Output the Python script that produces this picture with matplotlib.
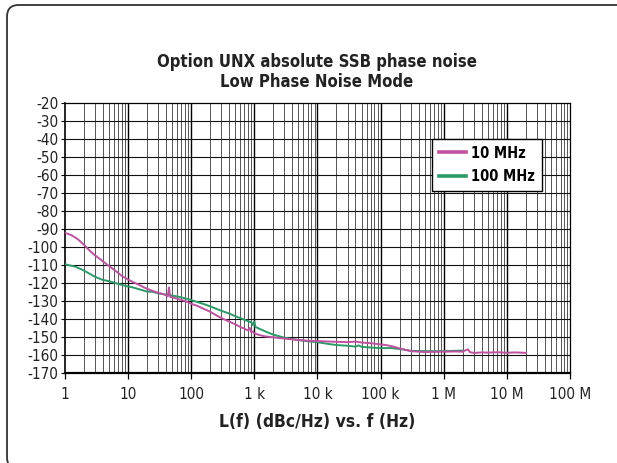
import matplotlib
matplotlib.use("Agg")
import matplotlib.pyplot as plt
from matplotlib.patches import FancyBboxPatch
from matplotlib.ticker import FixedLocator, NullFormatter

plt.rcParams['font.family'] = ['DejaVu Sans']
plt.rcParams['font.stretch'] = 'condensed'

# ---------------- data ----------------
freq_10mhz = [1, 1.3, 1.6, 2, 2.5, 3, 4, 5, 6, 8, 10, 12, 15, 18, 20, 25, 30, 35, 40, 43, 45, 47,
              50, 60, 70, 80, 100, 130, 160, 200, 250, 300, 400, 500, 600, 700, 800, 850, 900,
              950, 1000, 1200, 1500, 2000, 3000, 5000, 7000, 10000, 20000, 30000, 40000, 50000,
              70000, 100000, 130000, 160000, 200000, 250000, 300000, 400000, 500000, 700000,
              1e6, 1.5e6, 2e6, 2.2e6, 2.4e6, 2.6e6, 3e6, 4e6, 5e6, 7e6, 1e7, 1.3e7, 1.6e7, 2e7]
noise_10mhz = [-92, -93.5, -95.5, -98.5, -102, -104.5, -107.8, -110.5, -112.5, -116, -118, -119.5,
               -121, -122.5, -123.2, -124.5, -125.5, -126, -126.8, -127.5, -122.5, -127.8,
               -128, -128.8, -129.5, -130, -131.5, -133, -134.5, -136, -138, -139.5, -141.5,
               -143, -144.5, -145.5, -146.5, -145, -147.5, -147, -148, -149, -149.8, -150.3,
               -151, -151.8, -152.2, -152.4, -152.8, -153, -152.7, -153.2, -153.6, -154.2,
               -154.8, -155.5, -156.5, -157.3, -158, -158.3, -158.5, -158.4, -158.3, -158.2,
               -158.3, -157.5, -157, -158.6, -159, -158.7, -158.8, -158.6, -158.9, -158.7,
               -158.8, -159]

freq_100mhz = [1, 1.5, 2, 3, 4, 5, 7, 10, 12, 15, 20, 25, 30, 40, 50, 70, 100, 130, 160, 200,
               300, 400, 500, 700, 900, 950, 1000, 1050, 1200, 1500, 2000, 3000, 5000, 7000,
               10000, 15000, 20000, 30000, 40000, 45000, 50000, 70000, 100000, 150000, 200000,
               300000, 500000, 700000, 1e6, 1.5e6, 2e6]
noise_100mhz = [-109.6, -111, -113, -116.5, -118.3, -119, -120.5, -122, -122.5, -123.5, -124.8,
                -125, -125.8, -126.5, -127, -128, -129.5, -130.8, -131.8, -133, -135.5, -137,
                -138.5, -140.5, -142, -143.5, -141.5, -144.5, -145.5, -147, -148.8, -150.5,
                -151.8, -152.5, -153, -154, -154.6, -155, -155.5, -154.8, -155.6, -156, -156.3,
                -156.3, -156.8, -157.8, -158, -158, -158, -157.8, -157.7]

series_labels = ["10 MHz", "100 MHz"]
x_tick_values = [1, 10, 100, 1e3, 1e4, 1e5, 1e6, 1e7, 1e8]
x_tick_labels = ["1", "10", "100", "1 k", "10 k", "100 k", "1 M", "10 M", "100 M"]
y_tick_values = list(range(-170, -10, 10))
y_tick_labels = ["%d" % v for v in y_tick_values]
title_text = "Option UNX absolute SSB phase noise\nLow Phase Noise Mode"
xlabel_text = "L(f) (dBc/Hz) vs. f (Hz)"

C10 = "#c050a0"
C100 = "#2a9a68"

W, H = 617, 463
fig = plt.figure(figsize=(W / 100, H / 100), dpi=100)
fig.patch.set_facecolor("white")

# rounded outer frame (extends past right/bottom edges like the reference)
frame = FancyBboxPatch((7 / W, -6 / H), 622 / W, 464 / H,
                       boxstyle="round,pad=0,rounding_size=0.019",
                       transform=fig.transFigure, facecolor="none", edgecolor="#333333",
                       linewidth=1.3, mutation_aspect=W / H)
fig.patches.append(frame)

ax_l, ax_r, ax_t, ax_b = 64.5, 570.3, 103.3, 372.7
ax = fig.add_axes([ax_l / W, 1 - ax_b / H, (ax_r - ax_l) / W, (ax_b - ax_t) / H])
ax.set_xscale("log")
ax.set_xlim(1, 1e8)
ax.set_ylim(-170, -20)

# grid
minor = [m * 10 ** d for d in range(0, 8) for m in range(2, 10)]
for v in minor:
    ax.axvline(v, color="#3a3a3a", lw=0.6, zorder=1)
for v in x_tick_values[1:-1]:
    ax.axvline(v, color="black", lw=1.0, zorder=1)
for v in y_tick_values[1:-1]:
    ax.axhline(v, color="#111111", lw=0.8, zorder=1)

ax.plot(freq_100mhz, noise_100mhz, color=C100, lw=1.4, zorder=3, label=series_labels[1])
ax.plot(freq_10mhz, noise_10mhz, color=C10, lw=1.4, zorder=3, label=series_labels[0])

ax.xaxis.set_major_locator(FixedLocator(x_tick_values))
ax.set_xticklabels(x_tick_labels)
ax.xaxis.set_minor_locator(FixedLocator([]))
ax.xaxis.set_minor_formatter(NullFormatter())
ax.set_yticks(y_tick_values)
ax.set_yticklabels(y_tick_labels)
ax.tick_params(axis="x", length=4, width=0.9, pad=6, labelsize=11, colors="black",
               labelcolor="#222222")
ax.tick_params(axis="y", length=3, width=0.8, pad=1.5, labelsize=11, colors="black",
               labelcolor="#222222")

for s in ["top", "right"]:
    ax.spines[s].set_linewidth(0.9)
ax.spines["left"].set_linewidth(1.2)
ax.spines["bottom"].set_linewidth(1.6)

# legend (order: 10 MHz first)
h, l = ax.get_legend_handles_labels()
leg = ax.legend([h[1], h[0]], [l[1], l[0]], loc="upper left",
                bbox_to_anchor=(432 / W, 1 - 139 / H), bbox_transform=fig.transFigure,
                borderaxespad=0, frameon=True, fancybox=False, edgecolor="black",
                framealpha=1, prop={"weight": "bold", "size": 10.5, "stretch": "condensed"},
                handlelength=1.85, handletextpad=0.4, borderpad=0.45, labelspacing=0.6)
leg.get_frame().set_linewidth(1.0)
for line in leg.get_lines():
    line.set_linewidth(2.6)
leg.set_zorder(5)

fig.text(317 / W, 1 - 72 / H, title_text, ha="center", va="center", fontsize=12,
         fontweight="bold", color="#222222", linespacing=1.2)
fig.text(317 / W, 1 - 422 / H, xlabel_text, ha="center", va="center", fontsize=12.5,
         fontweight="bold", color="#222222")

fig.savefig("out.png", dpi=100)
